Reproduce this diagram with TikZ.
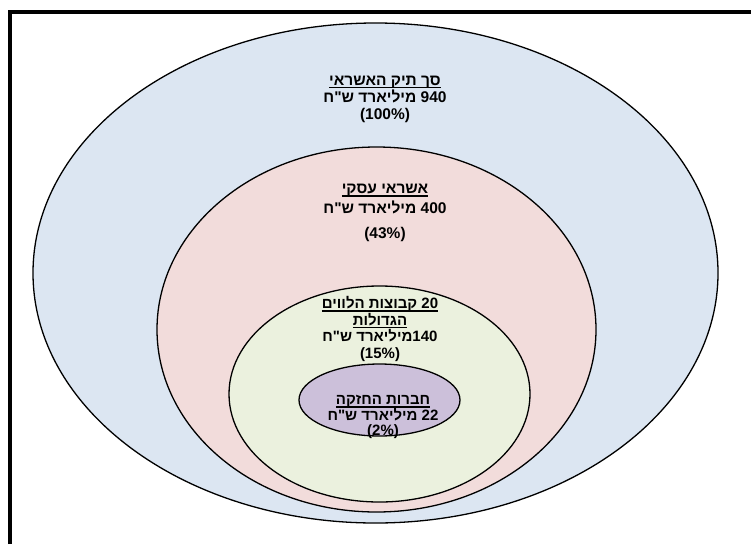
\documentclass[tikz,border=0pt]{standalone}
\usepackage{fontspec}
\newfontfamily\hebfont[Script=Hebrew,Ligatures=TeXOff]{Liberation Sans}
\TeXXeTstate=1
\usepackage{tikz}
\usetikzlibrary{shapes.geometric}
\definecolor{totalblue}{HTML}{DCE6F2}
\definecolor{bizpink}{HTML}{F2DCDB}
\definecolor{groupgreen}{HTML}{EBF1DE}
\definecolor{holdpurple}{HTML}{CCC0DA}
\newsavebox\undlbox
\newcommand{\undl}[1]{\sbox\undlbox{#1}\rlap{\rule[-3pt]{\wd\undlbox}{1.3pt}}\usebox\undlbox}
\tikzset{
  ring/.style={ellipse, draw=black, line width=1.3pt, inner sep=0pt},
  ringtext/.style={align=center, inner sep=0pt, font=\hebfont\bfseries\fontsize{15.5}{17}\selectfont},
  ringsmall/.style={ringtext, font=\hebfont\bfseries\fontsize{15}{16.5}\selectfont}
}
\begin{document}
\begin{tikzpicture}[x=1pt, y=-1pt]
  \useasboundingbox (0,0) rectangle (751,544);
  \draw[line width=4pt] (10,544) -- (10,12) -- (751,12);

  \node[ring, fill=totalblue, minimum width=685pt, minimum height=500pt] (total) at (375.5,273) {};
  \node[ring, fill=bizpink, minimum width=439pt, minimum height=365pt] (biz) at (376.5,329.5) {};
  \node[ring, fill=groupgreen, minimum width=301pt, minimum height=216pt] (groups) at (379.5,394) {};
  \node[ring, fill=holdpurple, minimum width=161pt, minimum height=72pt] (hold) at (379.5,400) {};

  \node[ringtext] (totaltxt) at (385,99) {\undl{\beginR סך תיק האשראי\endR}\\
    \beginR 940 מיליארד ש"ח\endR\\(100\%)};
  \node[ringtext] (biztxt) at (385,213) {\undl{\beginR אשראי עסקי\endR}\\[3pt]
    \beginR 400 מיליארד ש"ח\endR\\[8pt](43\%)};
  \node[ringsmall] (groupstxt) at (380,329) {\undl{\beginR 20 קבוצות הלווים\endR}\\
    \undl{\beginR הגדולות\endR}\\\beginR 140\kern0pt מיליארד ש"ח\endR\\(15\%)};
  \node[ringsmall, font=\hebfont\bfseries\fontsize{15}{15.5}\selectfont] (holdtxt) at (383,417) {\undl{\beginR חברות החזקה\endR}\\
    \beginR 22 מיליארד ש"ח\endR\\(2\%)};
\end{tikzpicture}
\end{document}
